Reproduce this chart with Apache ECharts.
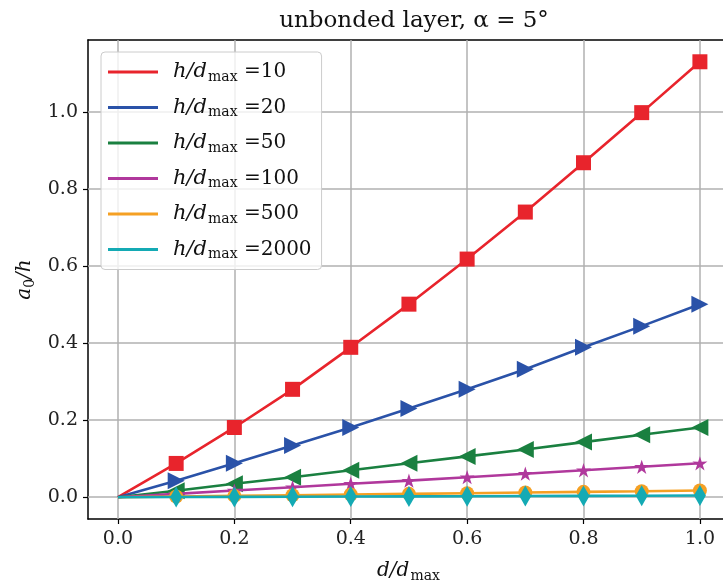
<!DOCTYPE html>
<html><head><meta charset="utf-8">
<script src="https://cdn.jsdelivr.net/npm/echarts@6/dist/echarts.min.js"></script>
<style>html,body{margin:0;padding:0;background:#fff}#c{width:723px;height:582px}</style>
</head><body><div id="c"></div>
<script>
const xValues = [0, 0.1, 0.2, 0.3, 0.4, 0.5, 0.6, 0.7, 0.8, 0.9, 1.0];
const ratios = ['10', '20', '50', '100', '500', '2000'];
const red10 = [0, 0.0877, 0.181, 0.280, 0.389, 0.501, 0.618, 0.740, 0.868, 0.998, 1.130];
const blue20 = [0, 0.043, 0.088, 0.134, 0.181, 0.230, 0.280, 0.332, 0.389, 0.444, 0.501];
const green50 = [0, 0.017, 0.035, 0.052, 0.070, 0.088, 0.106, 0.124, 0.143, 0.162, 0.181];
const magenta100 = [0, 0.0087, 0.0174, 0.026, 0.035, 0.043, 0.052, 0.061, 0.070, 0.079, 0.088];
const orange500 = [0, 0.0017, 0.0035, 0.0052, 0.0070, 0.0087, 0.0105, 0.0122, 0.014, 0.0157, 0.0175];
const cyan2000 = [0, 0.00044, 0.00087, 0.0013, 0.0017, 0.0022, 0.0026, 0.003, 0.0035, 0.0039, 0.0044];
const xTicks = [0, 0.2, 0.4, 0.6, 0.8, 1.0];
const yTicks = [0, 0.2, 0.4, 0.6, 0.8, 1.0];

const seriesValues = [red10, blue20, green50, magenta100, orange500, cyan2000];
const colors = ['#e8242c', '#2a52a8', '#1a8040', '#b0389c', '#f5a023', '#14aab4'];
const STAR = 'path://M50,0L61.2,34.6L97.6,34.5L68.1,55.9L79.4,90.5L50,69L20.6,90.5L31.9,55.9L2.4,34.5L38.8,34.6Z';
const symbols = [
  {symbol: 'rect', size: 15, rotate: 0},
  {symbol: 'triangle', size: 17, rotate: -90},
  {symbol: 'triangle', size: 17, rotate: 90},
  {symbol: STAR, size: 15, rotate: 0},
  {symbol: 'circle', size: 14, rotate: 0},
  {symbol: 'diamond', size: [12, 21], rotate: 0}
];
const FONT = 'DejaVu Serif';
const names = ratios.map(r => 'h/dmax =' + r);

const series = seriesValues.map((vals, i) => ({
  name: names[i],
  type: 'line',
  data: vals.map((v, k) => k === 0 ? {value: [xValues[k], v], symbol: 'none'} : [xValues[k], v]),
  color: colors[i],
  lineStyle: {width: 2.6, color: colors[i]},
  itemStyle: {color: colors[i]},
  symbol: symbols[i].symbol,
  symbolSize: symbols[i].size,
  symbolRotate: symbols[i].rotate,
  symbolKeepAspect: true,
  showAllSymbol: true,
  z: 2 + i,
  animation: false
}));
// grid lines at the tick values
series.unshift({
  name: 'grid', type: 'line', data: [], z: 1, silent: true, animation: false,
  markLine: {
    z: 1, silent: true, symbol: 'none', animation: false,
    label: {show: false},
    lineStyle: {color: '#b0b0b0', width: 1.5, type: 'solid'},
    emphasis: {disabled: true},
    data: xTicks.map(v => ({xAxis: v})).concat(yTicks.map(v => ({yAxis: v})))
  }
});

const chart = echarts.init(document.getElementById('c'));
chart.setOption({
  animation: false,
  backgroundColor: '#fff',
  title: {
    text: 'unbonded layer, α = 5°',
    left: 409, top: 5, textAlign: 'center',
    textStyle: {fontFamily: FONT, fontSize: 23, fontWeight: 'normal', color: '#111'}
  },
  grid: {left: 88, top: 40, right: -6, bottom: 63, outerBoundsMode: 'none', containLabel: false, show: false},
  legend: {
    orient: 'vertical', left: 101, top: 52, z: 10,
    backgroundColor: 'rgba(255,255,255,0.8)', borderColor: '#cccccc', borderWidth: 1, borderRadius: 4,
    padding: [8, 10, 8, 7],
    itemWidth: 50, itemHeight: 3, itemGap: 11.5, icon: 'rect',
    data: names,
    formatter: function (n) {
      const r = n.split('=')[1];
      return '{a|h/d}{b|max}{c| =' + r + '}';
    },
    textStyle: {
      fontFamily: FONT, color: '#111', fontSize: 20,
      rich: {
        a: {fontFamily: FONT, fontStyle: 'italic', fontSize: 21, color: '#111', lineHeight: 24, padding: [0, 0, 0, 10]},
        b: {fontFamily: FONT, fontSize: 14, color: '#111', padding: [10, 0, 0, 1], lineHeight: 24},
        c: {fontFamily: FONT, fontSize: 20, color: '#111', lineHeight: 24}
      }
    }
  },
  xAxis: [{
    type: 'value', min: -0.0515, max: 1.05,
    name: '{a|d/d}{b|max}', nameLocation: 'middle', nameGap: 40,
    nameTextStyle: {rich: {
      a: {fontFamily: FONT, fontStyle: 'italic', fontSize: 20, color: '#111'},
      b: {fontFamily: FONT, fontSize: 14, color: '#111', padding: [10, 0, 0, 1]}
    }},
    axisLine: {show: true, onZero: false, lineStyle: {color: '#000', width: 1.5}},
    axisTick: {show: true, length: 5, inside: false, customValues: xTicks, lineStyle: {color: '#000', width: 1.2}},
    axisLabel: {customValues: xTicks, margin: 11, fontFamily: FONT, fontSize: 19, color: '#222',
      formatter: v => v.toFixed(1)},
    splitLine: {show: false}
  }, {
    type: 'value', position: 'top', min: -0.0515, max: 1.05,
    axisLine: {show: true, onZero: false, lineStyle: {color: '#000', width: 1.5}},
    axisTick: {show: false}, axisLabel: {show: false}, splitLine: {show: false}
  }],
  yAxis: {
    type: 'value', min: -0.0565, max: 1.1865,
    name: '{a|a}{b|0}{a|/h}', nameLocation: 'middle', nameGap: 51, nameRotate: 90,
    nameTextStyle: {rich: {
      a: {fontFamily: FONT, fontStyle: 'italic', fontSize: 20, color: '#111'},
      b: {fontFamily: FONT, fontSize: 14, color: '#111', padding: [10, 0, 0, 0]}
    }},
    axisLine: {show: true, onZero: false, lineStyle: {color: '#000', width: 1.5}},
    axisTick: {show: true, length: 5, inside: false, customValues: yTicks, lineStyle: {color: '#000', width: 1.2}},
    axisLabel: {customValues: yTicks, margin: 10, fontFamily: FONT, fontSize: 19, color: '#222',
      formatter: v => v.toFixed(1)},
    splitLine: {show: false}
  },
  series: series
});
</script></body></html>
